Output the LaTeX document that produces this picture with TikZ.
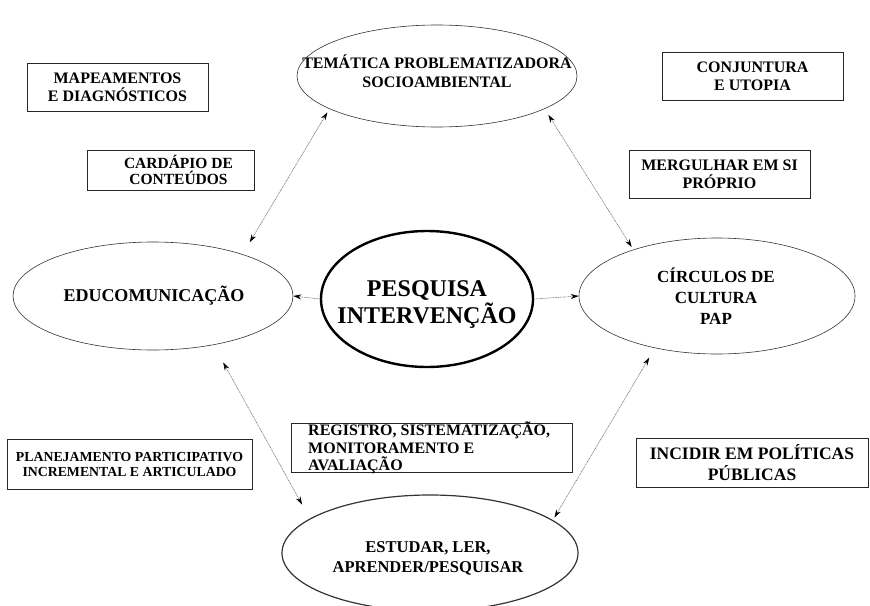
\documentclass[tikz,border=0pt]{standalone}
\usepackage{fontspec}
\setmainfont{Liberation Serif}
\usetikzlibrary{shapes.geometric,arrows.meta}

\newcommand\fsz[2]{\fontsize{#1}{#2}\selectfont}

\begin{document}
\begin{tikzpicture}[x=1pt,y=-1pt,
    ring/.style={draw=black!80,ellipse,inner sep=0pt,line width=0.6pt},
    tag/.style={draw=black!85,line width=0.6pt,inner sep=0pt,align=center,font=\bfseries\fsz{16}{18}},
    txt/.style={inner sep=0pt,align=center},
    link/.style={{Stealth[length=8pt,width=5pt,black]}-{Stealth[length=8pt,width=5pt,black]},
        black!60,dash pattern=on 1pt off 0.7pt,line width=0.55pt},
    push/.style={-{Stealth[length=8pt,width=5pt,black]},black!60,dash pattern=on 1pt off 0.7pt,line width=0.55pt}]
        \useasboundingbox (0,0) rectangle (870,605);

        % --- 1. Ellipses ---
        \node[ring,minimum width=280pt,minimum height=102pt] (tema) at (437,76) {};
        \node[ring,minimum width=280pt,minimum height=108pt] (edu) at (153,296) {};
        \node[ring,minimum width=276pt,minimum height=116pt] (circ) at (717,296) {};
        \node[ring,line width=1.2pt,minimum width=296pt,minimum height=116pt] (estudar) at (430,553) {};
        \node[ring,draw=black,line width=2.4pt,minimum width=212pt,minimum height=136pt] (pesq) at (427,299) {};

        % texts inside the ellipses
        \node[txt,font=\bfseries\fsz{16}{19}] (tematxt) at (437,71) {TEMÁTICA PROBLEMATIZADORA\\SOCIOAMBIENTAL};
        \node[txt,font=\bfseries\fsz{18}{21}] (edutxt) at (154,296) {EDUCOMUNICAÇÃO};
        \node[txt,font=\bfseries\fsz{17}{21}] (circtxt) at (716,296) {CÍRCULOS DE\\CULTURA\\PAP};
        \node[txt,font=\bfseries\fsz{16.5}{20}] (estudartxt) at (428,558) {ESTUDAR, LER,\\APRENDER/PESQUISAR};
        \node[txt,font=\bfseries\fsz{24}{27}] (pesqtxt) at (427,305) {PESQUISA\\INTERVENÇÃO};

        % --- 2. Boxes ---
        \node[tag,minimum width=181pt,minimum height=48pt] (mapa) at (117.5,87) {MAPEAMENTOS\\E DIAGNÓSTICOS};
        \node[tag,minimum width=181pt,minimum height=48pt] (conj) at (752.5,76) {CONJUNTURA\\E UTOPIA};
        \node[tag,minimum width=167pt,minimum height=40pt,font=\bfseries\fsz{15.5}{16}] (card) at (170.5,170) {\hspace*{16pt}CARDÁPIO DE\\\hspace*{16pt}CONTEÚDOS};
        \node[tag,minimum width=181pt,minimum height=48pt] (merg) at (719.5,174) {MERGULHAR EM SI\\PRÓPRIO};
        \node[tag,minimum width=245pt,minimum height=50pt,font=\bfseries\fsz{13.8}{15}] (plan) at (129.5,464) {PLANEJAMENTO PARTICIPATIVO\\INCREMENTAL E ARTICULADO};
        \node[tag,minimum width=232pt,minimum height=49pt,font=\bfseries\fsz{17.5}{21}] (incidir) at (752,462.5) {INCIDIR EM POLÍTICAS\\PÚBLICAS};
        \node[tag,minimum width=281pt,minimum height=49pt] (reg) at (431.5,447.5) {};
        \node[txt,anchor=north west,align=left,font=\bfseries\fsz{16}{17.5}] (regtxt) at (308,422) {REGISTRO, SISTEMATIZAÇÃO,\\MONITORAMENTO E\\AVALIAÇÃO};

        % --- 3. Connectors ---
        \draw[link,shorten <=14pt,shorten >=4pt] (edu.25) -- (tema.197);
        \draw[link,shorten <=7pt,shorten >=3pt] (tema.343) -- (circ.151);
        \draw[link,shorten <=20pt,shorten >=16pt] (edu.321) -- (estudar.164);
        \draw[link,shorten <=3pt,shorten >=11pt] (estudar.15) -- (circ.220);
        \draw[push] (pesq.west) -- (edu.east);
        \draw[push] (pesq.east) -- (circ.west);

    \end{tikzpicture}
\end{document}
